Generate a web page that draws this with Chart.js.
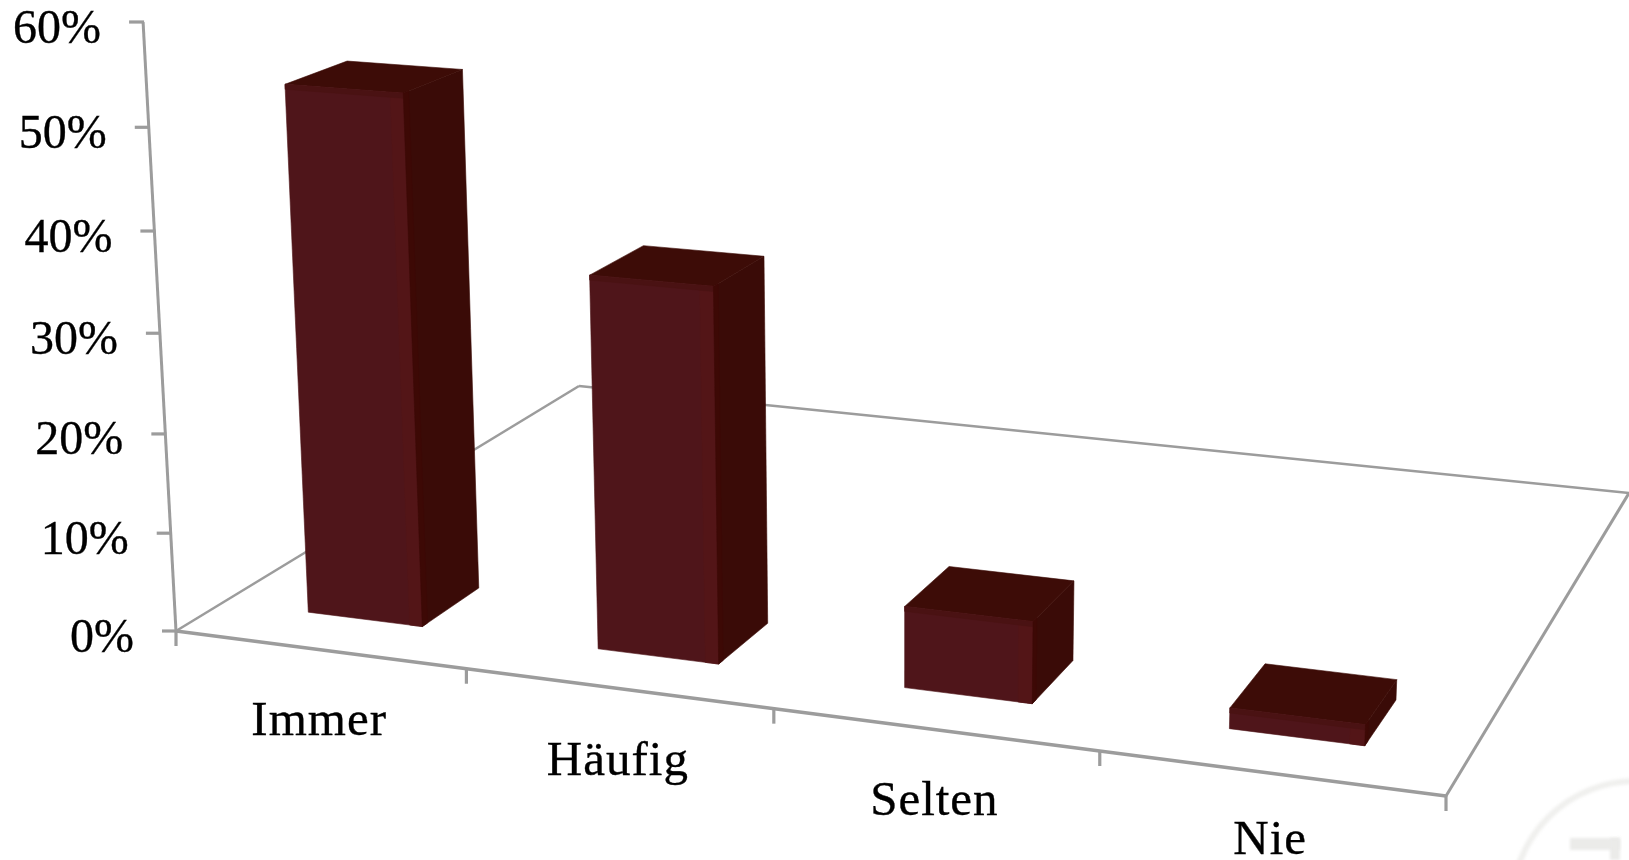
<!DOCTYPE html>
<html>
<head>
<meta charset="utf-8">
<style>html,body{margin:0;padding:0;background:#fff}canvas{display:block}</style>
<script src="https://cdn.jsdelivr.net/npm/chart.js@4"></script>
</head>
<body>
<canvas id="c" width="1629" height="860"></canvas>
<script>
const categories = ['Immer', 'Häufig', 'Selten', 'Nie'];
const shareValues = [53, 37, 8, 2];
const yTickValues = [0, 10, 20, 30, 40, 50, 60];
const yTickLabels = ['0%', '10%', '20%', '30%', '40%', '50%', '60%'];
const yMax = 60;

/* Perspective of the 3D scene: floor corners and vertical vanishing point */
const FLOOR = {A:[176,631], B:[1446,796], C:[1629,493], D:[579,386]};
const VANISH = [904, 14100];
const AXIS_TOP = 22;
const DEPTH_FRONT = 0.1, DEPTH_BACK = 0.233;
const LABEL_DROP = [85, 87, 85, 81];

const COL = {axis:'#9c9c9c', text:'#000', side:'#3a0b07', top:'#3d0c07', rim:'#531517', lid:'#4a1213', seam:'#3d0905'};

function makeProjector() {
  const {A,B,C,D} = FLOOR;
  const dx1=B[0]-C[0], dx2=D[0]-C[0], sx=A[0]-B[0]+C[0]-D[0];
  const dy1=B[1]-C[1], dy2=D[1]-C[1], sy=A[1]-B[1]+C[1]-D[1];
  const det=dx1*dy2-dx2*dy1;
  const g=(sx*dy2-dx2*sy)/det, h=(dx1*sy-sx*dy1)/det;
  const a=B[0]-A[0]+g*B[0], b=D[0]-A[0]+h*D[0], c=A[0];
  const d=B[1]-A[1]+g*B[1], e=D[1]-A[1]+h*D[1], f=A[1];
  const lam=(AXIS_TOP-f)/(VANISH[1]-AXIS_TOP);
  return (u,v,t)=>{
    const L=lam*t, w=g*u+h*v+1+L;
    return [(a*u+b*v+c+L*VANISH[0])/w,(d*u+e*v+f+L*VANISH[1])/w];
  };
}
const project = makeProjector();

function poly(ctx, pts, fill) {
  ctx.beginPath();
  pts.forEach((p,i)=> i?ctx.lineTo(p[0],p[1]):ctx.moveTo(p[0],p[1]));
  ctx.closePath();
  ctx.fillStyle=fill; ctx.fill();
  ctx.strokeStyle=fill; ctx.lineWidth=0.6; ctx.stroke();
}
function seg(ctx,p,q,w){
  ctx.beginPath();ctx.moveTo(p[0],p[1]);ctx.lineTo(q[0],q[1]);
  ctx.lineWidth=w;ctx.strokeStyle=COL.axis;ctx.stroke();
}
function label(ctx,text,x,y){
  ctx.fillStyle=COL.text; ctx.strokeStyle=COL.text; ctx.lineWidth=0.35;
  ctx.fillText(text,x,y); ctx.strokeText(text,x,y);
}

const scene3d = {
  id:'scene3d',
  beforeDatasetDraw(chart, args){
    const ctx=chart.ctx, xs=chart.scales.x, ys=chart.scales.y, area=chart.chartArea;
    const U=px=>(px-area.left)/(area.right-area.left);
    const T=val=>(ys.getPixelForValue(0)-ys.getPixelForValue(val))/(ys.getPixelForValue(0)-ys.getPixelForValue(yMax));
    ctx.save();
    ctx.lineCap='butt';
    // watermark remnant in the corner
    ctx.save();
    ctx.filter='blur(1.5px)';
    ctx.strokeStyle='#f0f0ee'; ctx.lineWidth=6;
    ctx.beginPath(); ctx.arc(1636,905,124,Math.PI*1.0,Math.PI*1.56); ctx.stroke();
    ctx.fillStyle='#ebebe9';
    ctx.fillRect(1570,838,50,12); ctx.fillRect(1610,838,10,22);
    ctx.restore();
    // floor outline
    seg(ctx,project(0,0,0),project(0,1,0),2.6);
    seg(ctx,project(0,1,0),project(1,1,0),2.6);
    seg(ctx,project(1,1,0),project(1,0,0),3);
    seg(ctx,project(1,0,0),project(0,0,0),3.4);
    // value axis
    seg(ctx,project(0,0,T(yMax)),project(0,0,0),3);
    ctx.font='48px "Liberation Serif"';
    ctx.textBaseline='alphabetic';
    ctx.textAlign='right';
    ctx.letterSpacing='0px';
    yTickValues.forEach((val,i)=>{
      const p=project(0,0,T(val));
      seg(ctx,[p[0]-14,p[1]],[p[0]+1,p[1]],3.2);
      label(ctx,yTickLabels[i],p[0]-42,p[1]+20.5);
    });
    // category ticks and labels
    const n=categories.length;
    const step=xs.getPixelForValue(1)-xs.getPixelForValue(0);
    for(let i=0;i<=n;i++){
      const edge=i<n?xs.getPixelForValue(i)-step/2:xs.getPixelForValue(n-1)+step/2;
      const p=project(U(edge),0,0);
      seg(ctx,p,[p[0],p[1]+15],3.2);
    }
    ctx.textAlign='center';
    ctx.font='49px "Liberation Serif"';
    ctx.letterSpacing='1px';
    categories.forEach((name,i)=>{
      const p=project(U(xs.getPixelForValue(i)),0,0);
      label(ctx,name,p[0],p[1]+LABEL_DROP[i]);
    });
    ctx.letterSpacing='0px';
    // bars
    const meta=chart.getDatasetMeta(args.index);
    meta.data.forEach((el,i)=>{
      const v0=DEPTH_FRONT, v1=DEPTH_BACK;
      const uL=U(el.x-el.width/2), uR=U(el.x+el.width/2), t=T(shareValues[i]);
      const FBL=project(uL,v0,0), FBR=project(uR,v0,0), FTL=project(uL,v0,t), FTR=project(uR,v0,t);
      const BBR=project(uR,v1,0), BTL=project(uL,v1,t), BTR=project(uR,v1,t);
      poly(ctx,[FBR,BBR,BTR,FTR],COL.side);
      poly(ctx,[FTL,FTR,BTR,BTL],COL.top);
      poly(ctx,[FBL,FBR,FTR,FTL],el.options.backgroundColor);
      // soft shading along the inner edges
      const rimU=uR-0.011, lidT=Math.max(t-0.008,t*0.75), seamV=v0+0.012;
      poly(ctx,[project(rimU,v0,0),FBR,FTR,project(rimU,v0,t)],COL.rim);
      poly(ctx,[FTL,FTR,project(uR,v0,lidT),project(uL,v0,lidT)],COL.lid);
      poly(ctx,[FBR,project(uR,seamV,0),project(uR,seamV,t),FTR],COL.seam);
    });
    ctx.restore();
    return false;
  }
};

new Chart(document.getElementById('c'),{
  type:'bar',
  data:{labels:categories,datasets:[{
    label:'Anteil',
    data:shareValues,
    backgroundColor:'#4f151a',
    barPercentage:0.4,
    categoryPercentage:1
  }]},
  options:{
    responsive:false,
    devicePixelRatio:1,
    animation:false,
    layout:{padding:0},
    plugins:{legend:{display:false},title:{display:false},tooltip:{enabled:false}},
    scales:{
      x:{display:false,type:'category',offset:true},
      y:{display:false,type:'linear',min:0,max:yMax,ticks:{stepSize:10}}
    }
  },
  plugins:[scene3d]
});
</script>
</body>
</html>
